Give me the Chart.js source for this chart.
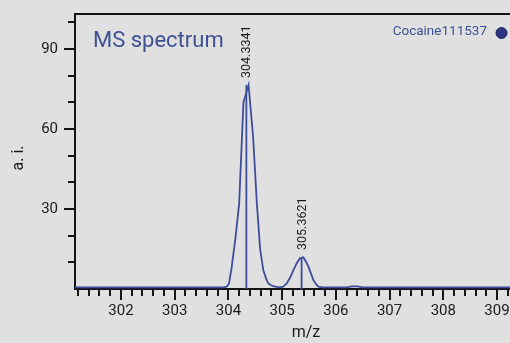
<!DOCTYPE html>
<html>
<head>
<meta charset="utf-8">
<script src="https://cdn.jsdelivr.net/npm/chart.js@4"></script>
<style>
  html, body { margin: 0; padding: 0; background: #e0e0e0; }
  #wrap { width: 510px; height: 343px; }
</style>
</head>
<body>
<div id="wrap"><canvas id="msChart" width="510" height="343"></canvas></div>
<script>
// ========== DATOS DEL ESPECTRO ==========
const mzValues = [301.14, 303.9, 303.97, 304.01, 304.06, 304.13, 304.2, 304.28, 304.375,
                  304.46, 304.53, 304.59, 304.65, 304.7, 304.74, 304.8, 304.87, 304.95,
                  305.02, 305.085, 305.15, 305.21, 305.27, 305.33, 305.395, 305.44, 305.49,
                  305.54, 305.58, 305.63, 305.675, 305.75, 306.2, 306.3, 306.4, 306.5, 309.3];
const intensityValues = [0.6, 0.6, 0.9, 2, 8, 19, 32, 70, 76.5,
                         57, 32, 15, 7, 4, 2.2, 1.3, 0.9, 0.6,
                         0.9, 2.1, 4.3, 7.1, 9.6, 11.5, 11.9, 10.4, 8.4,
                         5.6, 3.4, 1.8, 0.9, 0.6, 0.6, 1, 1, 0.6, 0.6];

const peakMz = [304.3341, 305.3621];
const peakIntensity = [76.5, 12];
const peakLabels = ['304.3341', '305.3621'];

const xTickValues = [302, 303, 304, 305, 306, 307, 308, 309];
const yTickValues = [30, 60, 90];

const seriesName = 'Cocaine111537';
const chartTitle = 'MS spectrum';
const xTitle = 'm/z';
const yTitle = 'a. i.';

const lineColor = '#3e4d9b';
const textBlue = '#3d5293';
const axisColor = '#151515';

// puntos {x,y} para la curva
const spectrumPoints = mzValues.map((mz, i) => ({ x: mz, y: intensityValues[i] }));

// una serie por cada pico (linea vertical)
const stickDatasets = peakMz.map((mz, i) => ({
    data: [{ x: mz, y: 0 }, { x: mz, y: peakIntensity[i] }],
    borderColor: lineColor,
    borderWidth: 1.8,
    pointRadius: 0,
    tension: 0
}));

// Plugin para marcas menores, marco, titulos, leyenda y etiquetas de picos
const decoracionPlugin = {
    id: 'decoracion',
    afterDraw(chart) {
        const ctx = chart.ctx;
        const area = chart.chartArea;
        const xs = chart.scales.x;
        const ys = chart.scales.y;

        ctx.save();
        ctx.strokeStyle = axisColor;
        ctx.lineWidth = 2;

        // marco superior
        ctx.beginPath();
        ctx.moveTo(area.left - 1, area.top);
        ctx.lineTo(area.right, area.top);
        ctx.stroke();

        // marcas eje Y (cada 10)
        for (let v = 10; v <= 100; v += 10) {
            const y = Math.round(ys.getPixelForValue(v));
            const len = yTickValues.includes(v) ? 11 : 7;
            ctx.beginPath();
            ctx.moveTo(area.left - len, y);
            ctx.lineTo(area.left, y);
            ctx.stroke();
        }

        // marcas eje X (cada 0.2)
        for (let k = 0; k <= 45; k++) {
            const v = 301 + k * 0.2;
            if (v < xs.min || v > xs.max) continue;
            const x = Math.round(xs.getPixelForValue(v));
            const isMajor = Math.abs(v - Math.round(v)) < 1e-6;
            const len = isMajor ? 11 : 7;
            ctx.beginPath();
            ctx.moveTo(x, area.bottom);
            ctx.lineTo(x, area.bottom + len);
            ctx.stroke();
        }

        // titulos de ejes
        ctx.fillStyle = '#1a1a1a';
        ctx.font = '16px Roboto';
        ctx.textAlign = 'center';
        ctx.textBaseline = 'middle';
        ctx.fillText(xTitle, 306, 333);
        ctx.save();
        ctx.translate(19, 158);
        ctx.rotate(-Math.PI / 2);
        ctx.fillText(yTitle, 0, 0);
        ctx.restore();

        // titulo
        ctx.fillStyle = textBlue;
        ctx.font = '22px Roboto';
        ctx.textAlign = 'left';
        ctx.fillText(chartTitle, 93, 41);

        // leyenda
        ctx.font = '13.5px Roboto';
        ctx.textAlign = 'right';
        ctx.fillText(seriesName, 487, 32);
        ctx.beginPath();
        ctx.arc(501.5, 33, 5.5, 0, Math.PI * 2);
        ctx.fillStyle = '#2d3482';
        ctx.fill();
        ctx.lineWidth = 1;
        ctx.strokeStyle = '#1c2262';
        ctx.stroke();

        // etiquetas de picos (rotadas)
        ctx.fillStyle = '#1a1a1a';
        ctx.font = '12.5px Roboto';
        peakMz.forEach((mz, i) => {
            const x = xs.getPixelForValue(mz) + 1;
            const y = ys.getPixelForValue(peakIntensity[i]) - 7;
            ctx.save();
            ctx.translate(x, y);
            ctx.rotate(-Math.PI / 2);
            ctx.textAlign = 'left';
            ctx.textBaseline = 'middle';
            ctx.fillText(peakLabels[i], 0, 0);
            ctx.restore();
        });

        ctx.restore();
    }
};

const ctx = document.getElementById('msChart').getContext('2d');
const msChart = new Chart(ctx, {
    type: 'line',
    data: {
        datasets: [{
            label: seriesName,
            data: spectrumPoints,
            borderColor: lineColor,
            borderWidth: 1.8,
            pointRadius: 0,
            tension: 0
        }, ...stickDatasets]
    },
    options: {
        responsive: false,
        animation: false,
        layout: { padding: { top: 14, right: 0, left: 0, bottom: 0 } },
        plugins: {
            legend: { display: false },
            tooltip: { enabled: false }
        },
        scales: {
            x: {
                type: 'linear',
                min: 301.144,
                max: 309.242,
                afterBuildTicks: scale => {
                    scale.ticks = xTickValues.map(v => ({ value: v }));
                },
                afterFit: scale => {
                    scale.height = 54;
                    scale.paddingLeft = 0;
                    scale.paddingRight = 0;
                },
                ticks: {
                    color: '#1a1a1a',
                    font: { family: 'Roboto', size: 15 },
                    padding: 13,
                    maxRotation: 0,
                    autoSkip: false
                },
                grid: { drawOnChartArea: false, drawTicks: false },
                border: { display: true, color: axisColor, width: 2 }
            },
            y: {
                min: 0,
                max: 103.1,
                afterBuildTicks: scale => {
                    scale.ticks = yTickValues.map(v => ({ value: v }));
                },
                afterFit: scale => {
                    scale.width = 75;
                    scale.paddingTop = 0;
                    scale.paddingBottom = 0;
                },
                ticks: {
                    color: '#1a1a1a',
                    font: { family: 'Roboto', size: 15 },
                    padding: 17
                },
                grid: { drawOnChartArea: false, drawTicks: false },
                border: { display: true, color: axisColor, width: 2 }
            }
        }
    },
    plugins: [decoracionPlugin]
});
</script>
</body>
</html>
